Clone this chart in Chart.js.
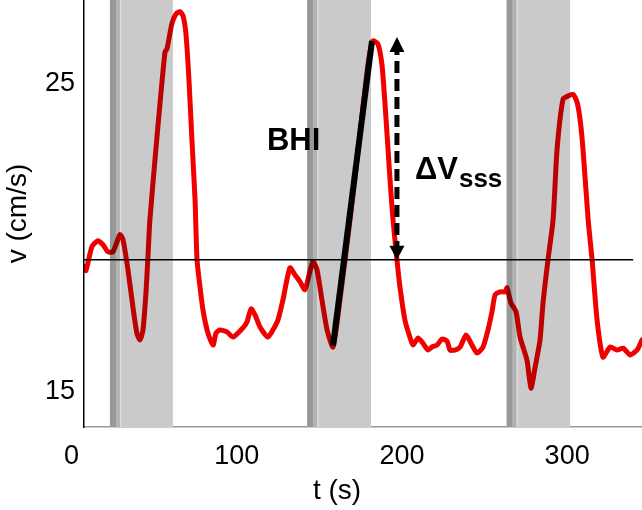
<!DOCTYPE html>
<html>
<head>
<meta charset="utf-8">
<script src="https://cdn.jsdelivr.net/npm/chart.js@4.4.1/dist/chart.umd.min.js"></script>
<style>
  html, body { margin: 0; padding: 0; background: #fff; }
  #contenedor { width: 642px; height: 510px; }
</style>
</head>
<body>
<div id="contenedor"><canvas id="grafico" width="642" height="510"></canvas></div>
<script>
// datos: tiempo (s) y velocidad (cm/s)
const tiempo = [7.6, 8.8, 12.4, 16.0, 19.1, 22.1, 25.1, 28.1, 29.4, 31.2,
  34.2, 37.2, 39.6, 41.5, 43.3, 45.1, 46.3, 47.5, 51.8, 56.6,
  57.8, 60.8, 63.3, 65.7, 67.5, 69.3, 71.1, 72.9, 74.8, 76.0,
  77.8, 79.6, 82.6, 85.7, 87.5, 89.9, 94.1, 97.8, 103.8, 106.2,
  108.7, 111.1, 114.1, 118.9, 121.9, 125.0, 128.0, 132.2, 135.3, 138.3,
  141.3, 143.8, 146.2, 148.6, 151.6, 154.7, 158.3, 162.5, 168.6, 174.6,
  179.5, 182.5, 185.5, 188.0, 190.4, 192.8, 194.6, 197.0, 198.8, 201.8,
  204.8, 206.7, 209.7, 212.2, 215.8, 218.2, 221.2, 224.3, 227.3, 229.1,
  232.1, 235.2, 238.8, 242.4, 245.5, 249.1, 252.1, 254.5, 256.4, 259.4,
  262.4, 263.6, 266.0, 269.1, 271.5, 275.7, 278.1, 280.6, 283.6, 285.4,
  288.4, 291.5, 293.9, 297.5, 300.5, 303.6, 306.0, 307.8, 309.6, 312.7,
  315.1, 318.1, 321.7, 326.0, 330.2, 333.9, 338.1, 342.3, 345.3];
const velocidad = [19.07, 18.94, 19.72, 19.91, 19.78, 19.55, 19.55, 19.95, 20.11, 19.95,
  18.97, 17.76, 16.91, 16.69, 17.01, 18.22, 19.39, 20.60, 23.30, 26.04,
  26.14, 26.96, 27.28, 27.35, 27.22, 26.63, 25.16, 23.21, 21.25, 19.29,
  18.41, 17.66, 16.91, 16.52, 16.91, 17.01, 16.95, 16.78, 17.08, 17.27,
  17.70, 17.50, 17.11, 16.78, 17.01, 17.34, 17.99, 19.03, 18.80, 18.58,
  18.32, 18.80, 19.23, 18.97, 17.99, 17.01, 16.46, 17.99, 20.60, 23.37,
  25.65, 26.40, 26.30, 25.59, 23.86, 21.90, 20.60, 19.29, 18.41, 17.34,
  16.78, 16.52, 16.75, 16.62, 16.36, 16.46, 16.52, 16.72, 16.65, 16.36,
  16.36, 16.46, 16.85, 16.52, 16.26, 16.46, 17.01, 17.60, 18.15, 18.25,
  18.25, 18.38, 17.89, 17.60, 16.78, 16.03, 15.12, 15.80, 16.69, 17.89,
  19.29, 20.60, 22.88, 24.51, 24.61, 24.67, 24.41, 23.86, 22.88, 20.60,
  19.29, 17.34, 16.13, 16.46, 16.36, 16.42, 16.20, 16.36, 16.69];

// franjas grises (inicio / fin en segundos)
const inicioFranjas = [23.3, 142.7, 263.4];
const finFranjas = [61.4, 181.3, 301.8];

// linea horizontal de referencia
const nivelBase = 19.29;
const baseT = [7.6, 340.0];

// recta BHI y flecha delta V
const bhiT = [158.3, 181.9];
const bhiV = [16.5, 26.4];
const flechaT = [197.0, 197.0];
const flechaV = [26.53, 19.29];

// ticks
const ticksX = [0, 100, 200, 300];
const ticksY = [15, 25];

const FUENTE = "'Liberation Sans', Arial, sans-serif";
Chart.defaults.font.family = FUENTE;
Chart.defaults.color = "#000";

const puntos = (xs, ys) => xs.map((x, i) => ({ x, y: ys[i] }));

// franjas grises detras de las curvas
const pluginFranjas = {
  id: "franjas",
  beforeDatasetsDraw(chart) {
    const { ctx, chartArea, scales } = chart;
    ctx.save();
    inicioFranjas.forEach((ini, i) => {
      const x0 = scales.x.getPixelForValue(ini);
      const x1 = scales.x.getPixelForValue(finFranjas[i]);
      const h = chartArea.bottom - chartArea.top;
      ctx.fillStyle = "#cacaca";
      ctx.fillRect(x0, chartArea.top, x1 - x0, h);
      ctx.fillStyle = "#989898";
      ctx.fillRect(x0, chartArea.top, 6, h);
      ctx.fillStyle = "#b2b2b2";
      ctx.fillRect(x0 + 6, chartArea.top, 4, h);
      ctx.fillStyle = "#dedede";
      ctx.fillRect(x0 + 10, chartArea.top, 1.2, h);
    });
    ctx.restore();
  },
  // la curva roja se "multiplica" sobre el gris (queda mas oscura en las franjas)
  beforeDatasetDraw(chart, args) {
    if (chart.data.datasets[args.index].label === "v") {
      chart.ctx.save();
      chart.ctx.globalCompositeOperation = "multiply";
    }
  },
  afterDatasetDraw(chart, args) {
    if (chart.data.datasets[args.index].label === "v") {
      chart.ctx.restore();
    }
  },
};

// puntas de flecha, textos y titulo del eje x
const pluginAnotaciones = {
  id: "anotaciones",
  afterDatasetsDraw(chart) {
    const { ctx, scales } = chart;
    const xa = scales.x, ya = scales.y;
    ctx.save();
    ctx.fillStyle = "#000";

    const fx = xa.getPixelForValue(flechaT[0]);
    const yTop = ya.getPixelForValue(flechaV[0]);
    const yBot = ya.getPixelForValue(flechaV[1]);
    ctx.beginPath();
    ctx.moveTo(fx, yTop);
    ctx.lineTo(fx - 7.5, yTop + 15);
    ctx.lineTo(fx + 7.5, yTop + 15);
    ctx.closePath();
    ctx.fill();
    ctx.beginPath();
    ctx.moveTo(fx, yBot);
    ctx.lineTo(fx - 7.5, yBot - 14);
    ctx.lineTo(fx + 7.5, yBot - 14);
    ctx.closePath();
    ctx.fill();

    ctx.textBaseline = "alphabetic";
    ctx.textAlign = "left";
    ctx.font = "bold 31px " + FUENTE;
    ctx.fillText("BHI", xa.getPixelForValue(118.3), ya.getPixelForValue(22.86));

    const xDelta = xa.getPixelForValue(207.9);
    const yDelta = ya.getPixelForValue(21.92);
    ctx.font = "bold 31px " + FUENTE;
    ctx.fillText("\u0394V", xDelta, yDelta);
    const w = ctx.measureText("\u0394V").width;
    ctx.font = "bold 26px " + FUENTE;
    ctx.fillText("sss", xDelta + w + 1, yDelta + 8);

    ctx.font = "28px " + FUENTE;
    ctx.textAlign = "center";
    ctx.textBaseline = "middle";
    ctx.fillText("t (s)", 337, 491);
    ctx.restore();
  },
};

new Chart(document.getElementById("grafico"), {
  type: "line",
  data: {
    datasets: [
      {
        label: "bhi",
        data: puntos(bhiT, bhiV),
        borderColor: "#000",
        borderWidth: 6,
        pointRadius: 0,
        borderCapStyle: "butt",
      },
      {
        label: "flecha",
        data: puntos(flechaT, flechaV),
        borderColor: "#000",
        borderWidth: 5,
        borderDash: [12, 6],
        borderDashOffset: 12,
        pointRadius: 0,
      },
      {
        label: "v",
        data: puntos(tiempo, velocidad),
        borderColor: "#f00000",
        borderWidth: 5,
        pointRadius: 0,
        tension: 0.2,
        borderJoinStyle: "round",
        borderCapStyle: "round",
      },
      {
        label: "base",
        data: puntos(baseT, [nivelBase, nivelBase]),
        borderColor: "#000",
        borderWidth: 1.5,
        pointRadius: 0,
      },
    ],
  },
  options: {
    responsive: false,
    animation: false,
    layout: { padding: 0 },
    plugins: { legend: { display: false }, tooltip: { enabled: false } },
    scales: {
      x: {
        type: "linear",
        min: 7.6,
        max: 345.3,
        grid: { drawOnChartArea: false, drawTicks: false, color: "transparent" },
        border: { display: true, color: "#9a9a9a", width: 1.5 },
        afterBuildTicks: (s) => { s.ticks = ticksX.map((v) => ({ value: v })); },
        afterFit: (s) => { s.height = 83; s.paddingLeft = 0; s.paddingRight = 0; },
        ticks: {
          autoSkip: false,
          maxRotation: 0,
          padding: 13,
          font: { size: 27 },
          color: "#000",
        },
      },
      y: {
        min: 13.86,
        max: 27.73,
        grid: { drawOnChartArea: false, drawTicks: false, color: "transparent" },
        border: { display: true, color: "#000", width: 1.5 },
        afterBuildTicks: (s) => { s.ticks = ticksY.map((v) => ({ value: v })); },
        afterFit: (s) => { s.width = 84; s.paddingTop = 0; s.paddingBottom = 0; },
        ticks: { padding: 9, font: { size: 27 }, color: "#000" },
        title: {
          display: true,
          text: "v (cm/s)",
          font: { size: 28 },
          color: "#000",
          padding: { top: 1, bottom: 0 },
        },
      },
    },
  },
  plugins: [pluginFranjas, pluginAnotaciones],
});
</script>
</body>
</html>
